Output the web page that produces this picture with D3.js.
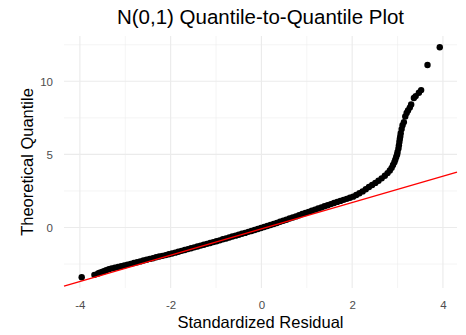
<!DOCTYPE html>
<html>
<head>
<meta charset="utf-8">
<script src="https://cdn.jsdelivr.net/npm/d3@7"></script>
<style>
  body { margin: 0; background: #fff; }
  text { font-family: "Liberation Sans", Arial, Helvetica, sans-serif; }
</style>
</head>
<body>
<div id="chart"></div>
<script>
// standardized residuals (x) and theoretical quantiles (y)
var residual = [-3.96, -3.68, -3.60, -3.56, -3.51, -3.47, -3.42, -3.36,
  -3.30, -3.23, -3.16, -3.09, -3.02, -2.95, -2.88, -2.81, -2.74, -2.67, -2.60, -2.53, -2.46, -2.39, -2.32, -2.25,
  -2.18, -2.11, -2.04, -1.97, -1.90, -1.83, -1.76, -1.69, -1.62, -1.55, -1.48, -1.41, -1.34, -1.27, -1.20, -1.13,
  -1.06, -0.99, -0.92, -0.85, -0.78, -0.71, -0.64, -0.57, -0.50, -0.43, -0.36, -0.29, -0.22, -0.15, -0.08, -0.01,
  0.06, 0.13, 0.20, 0.27, 0.34, 0.41, 0.48, 0.55, 0.62, 0.69, 0.76, 0.83, 0.90, 0.97, 1.04, 1.11,
  1.18, 1.25, 1.32, 1.39, 1.46, 1.53, 1.60, 1.67, 1.74, 1.81, 1.88, 1.95, 2.02, 2.09, 2.16, 2.23,
  2.30, 2.37, 2.44, 2.51, 2.58, 2.65, 2.72, 2.78, 2.83, 2.87, 2.90, 2.93, 2.95, 2.97, 2.99, 3.00,
  3.02, 3.03, 3.04, 3.05, 3.06, 3.07, 3.09, 3.11, 3.14, 3.17, 3.20, 3.23, 3.27, 3.30, 3.36, 3.40,
  3.47, 3.52, 3.66, 3.93];
var quantile = [-3.40, -3.24, -3.15, -3.10, -3.04, -2.99, -2.92, -2.85,
  -2.80, -2.75, -2.70, -2.65, -2.60, -2.54, -2.49, -2.43, -2.38, -2.32, -2.26, -2.21, -2.15, -2.10, -2.04, -1.99,
  -1.94, -1.89, -1.83, -1.78, -1.72, -1.66, -1.60, -1.54, -1.48, -1.42, -1.36, -1.30, -1.24, -1.18, -1.12, -1.06,
  -1.00, -0.94, -0.88, -0.81, -0.75, -0.69, -0.62, -0.56, -0.50, -0.43, -0.37, -0.30, -0.24, -0.17, -0.10, -0.04,
  0.03, 0.10, 0.17, 0.24, 0.31, 0.39, 0.46, 0.53, 0.61, 0.68, 0.76, 0.84, 0.92, 0.99, 1.07, 1.15,
  1.22, 1.30, 1.37, 1.45, 1.52, 1.60, 1.67, 1.75, 1.82, 1.89, 1.96, 2.03, 2.11, 2.22, 2.34, 2.47,
  2.62, 2.77, 2.91, 3.05, 3.20, 3.36, 3.54, 3.72, 3.90, 4.08, 4.28, 4.47, 4.64, 4.82, 5.00, 5.17,
  5.40, 5.62, 5.85, 6.05, 6.23, 6.45, 6.73, 6.99, 7.21, 7.60, 7.83, 8.01, 8.20, 8.42, 8.86, 8.99,
  9.22, 9.40, 11.12, 12.33];

// reference line
var lineIntercept = -0.09;
var lineSlope = 0.9;

var xTicks = [-4, -2, 0, 2, 4];
var xMinor = [-3, -1, 1, 3];
var yTicks = [0, 5, 10];
var yMinor = [-2.5, 2.5, 7.5, 12.5];

var width = 466, height = 335;
var margin = {top: 36, right: 9, bottom: 47, left: 64};

var points = residual.map(function(d, i) { return {x: d, y: quantile[i]}; });

var x = d3.scaleLinear().domain([-4.35, 4.31]).range([margin.left, width - margin.right]);
var y = d3.scaleLinear().domain([-4.14, 13.1]).range([height - margin.bottom, margin.top]);

var svg = d3.select("#chart").append("svg")
    .attr("width", width)
    .attr("height", height);

// grid
svg.append("g").selectAll("line").data(xMinor).enter().append("line")
    .attr("x1", function(d) { return x(d); }).attr("x2", function(d) { return x(d); })
    .attr("y1", y.range()[0]).attr("y2", y.range()[1])
    .attr("stroke", "#ebebeb").attr("stroke-width", 0.55);
svg.append("g").selectAll("line").data(yMinor).enter().append("line")
    .attr("y1", function(d) { return y(d); }).attr("y2", function(d) { return y(d); })
    .attr("x1", x.range()[0]).attr("x2", x.range()[1])
    .attr("stroke", "#ebebeb").attr("stroke-width", 0.55);
svg.append("g").selectAll("line").data(xTicks).enter().append("line")
    .attr("x1", function(d) { return x(d); }).attr("x2", function(d) { return x(d); })
    .attr("y1", y.range()[0]).attr("y2", y.range()[1])
    .attr("stroke", "#ebebeb").attr("stroke-width", 1.1);
svg.append("g").selectAll("line").data(yTicks).enter().append("line")
    .attr("y1", function(d) { return y(d); }).attr("y2", function(d) { return y(d); })
    .attr("x1", x.range()[0]).attr("x2", x.range()[1])
    .attr("stroke", "#ebebeb").attr("stroke-width", 1.1);

// axes (labels only, like theme_minimal)
var xAxis = svg.append("g")
    .attr("transform", "translate(0," + (height - margin.bottom) + ")")
    .call(d3.axisBottom(x).tickValues(xTicks).tickSize(0).tickPadding(13).tickFormat(function(d) { return String(d); }));
var yAxis = svg.append("g")
    .attr("transform", "translate(" + margin.left + ",0)")
    .call(d3.axisLeft(y).tickValues(yTicks).tickSize(0).tickPadding(11).tickFormat(function(d) { return String(d); }));
[xAxis, yAxis].forEach(function(a) {
    a.select(".domain").remove();
    a.selectAll("text")
        .attr("fill", "#4d4d4d")
        .style("font-size", "11.5px")
        .style("font-family", "'Liberation Sans', Arial, sans-serif");
});

// points
svg.append("g").selectAll("circle").data(points).enter().append("circle")
    .attr("cx", function(d) { return x(d.x); })
    .attr("cy", function(d) { return y(d.y); })
    .attr("r", 3.2)
    .attr("fill", "#000");

// red reference line across the panel
var xd = x.domain();
svg.append("line")
    .attr("x1", x(xd[0])).attr("y1", y(lineIntercept + lineSlope * xd[0]))
    .attr("x2", x(xd[1])).attr("y2", y(lineIntercept + lineSlope * xd[1]))
    .attr("stroke", "red").attr("stroke-width", 1.3);

// titles
svg.append("text")
    .attr("x", (margin.left + width - margin.right) / 2)
    .attr("y", 24)
    .attr("text-anchor", "middle")
    .style("font-size", "20.5px")
    .attr("fill", "#000")
    .text("N(0,1) Quantile-to-Quantile Plot");

svg.append("text")
    .attr("x", (margin.left + width - margin.right) / 2)
    .attr("y", 328)
    .attr("text-anchor", "middle")
    .style("font-size", "16.5px")
    .attr("fill", "#000")
    .text("Standardized Residual");

svg.append("text")
    .attr("transform", "translate(33," + ((margin.top + height - margin.bottom) / 2) + ") rotate(-90)")
    .attr("text-anchor", "middle")
    .style("font-size", "16.5px")
    .attr("fill", "#000")
    .text("Theoretical Quantile");
</script>
</body>
</html>
